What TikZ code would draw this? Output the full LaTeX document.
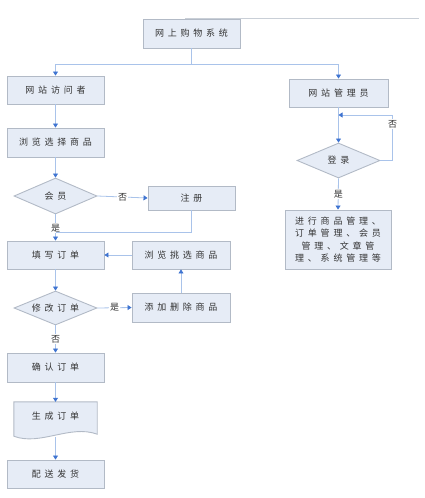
\documentclass[tikz,border=0pt]{standalone}
\usepackage{fontspec}
\newfontfamily\cjk[LetterSpace=42]{Noto Sans CJK SC}
\newfontfamily\cjklab{Noto Sans CJK SC}
\usetikzlibrary{arrows.meta,shapes.geometric}
\definecolor{boxfill}{HTML}{E6ECF6}
\definecolor{boxline}{HTML}{B2BAC6}
\definecolor{conn}{HTML}{A9C3EA}
\definecolor{tip}{HTML}{3F74D1}
\definecolor{txt}{HTML}{333333}
\tikzset{
  boxnode/.style={draw=boxline, line width=0.9pt, fill=boxfill, inner sep=0pt, text=txt, font=\cjk\fontsize{9}{12}\selectfont},
  decnode/.style={diamond, draw=boxline, line width=0.9pt, fill=boxfill, inner sep=0pt, text=txt, font=\cjk\fontsize{9}{12}\selectfont},
  lab/.style={fill=white, inner sep=1pt, text=txt, font=\cjklab\fontsize{9}{10}\selectfont},
  link/.style={draw=conn, line width=0.8pt},
  arr/.style={link, -{Triangle[width=5pt,length=4pt,color=tip]}}
}
\begin{document}
\begin{tikzpicture}[x=1pt,y=-1pt]
\useasboundingbox (0,0) rectangle (425,498);
\draw[boxline!70, line width=0.6pt] (185,18) -- (419,18);

% nodes
\node[boxnode, minimum width=97pt, minimum height=29pt] (sys) at (191.5,33.5) {网上购物系统};
\node[boxnode, minimum width=97pt, minimum height=28pt] (visitor) at (55.5,90) {网站访问者};
\node[boxnode, minimum width=97pt, minimum height=29pt] (browse) at (55.5,142.5) {浏览选择商品};
\node[decnode, minimum width=83pt, minimum height=36pt] (member) at (55.5,196) {\makebox[0pt]{会员}};
\node[boxnode, minimum width=87pt, minimum height=24pt] (reg) at (191.5,198) {注册};
\node[boxnode, minimum width=97pt, minimum height=28pt] (fill) at (55.5,255) {填写订单};
\node[boxnode, minimum width=98pt, minimum height=28pt] (pick) at (181,255) {浏览挑选商品};
\node[decnode, minimum width=83pt, minimum height=34pt] (modify) at (55.5,308) {\makebox[0pt]{修改订单}};
\node[boxnode, minimum width=98pt, minimum height=29pt] (adddel) at (181,307.5) {添加删除商品};
\node[boxnode, minimum width=97pt, minimum height=29pt] (confirm) at (55.5,367.5) {确认订单};
\node[inner sep=0pt, minimum width=83pt, minimum height=35pt] (gen) at (55.5,419.5) {};
\draw[draw=boxline, line width=0.9pt, fill=boxfill]
  (gen.north west) -- (gen.north east) -- ([yshift=3pt]gen.south east)
  .. controls ([xshift=-27pt,yshift=13pt]gen.south east) and ([xshift=26pt,yshift=-9pt]gen.south west) .. ([yshift=1pt]gen.south west) -- cycle;
\node[text=txt, font=\cjk\fontsize{9}{12}\selectfont, inner sep=0pt] (gentext) at (55.5,416) {生成订单};
\node[boxnode, minimum width=97pt, minimum height=28pt] (ship) at (55.5,474) {配送发货};

\node[boxnode, minimum width=99pt, minimum height=28pt] (admin) at (338.5,93) {网站管理员};
\node[decnode, minimum width=83pt, minimum height=35pt] (login) at (338.5,160.5) {\makebox[0pt]{登录}};
\node[boxnode, minimum width=106pt, minimum height=59pt, align=center, font=\cjk\fontsize{9}{12.3}\selectfont] (mgmt) at (338,239.5) {进行商品管理、\\订单管理、会员\\管理、文章管\\理、系统管理等};

% connectors
\coordinate (split) at (191.5,64.5);
\draw[link] (sys.south) -- (split);
\draw[arr] (split) -| (visitor.north);
\draw[arr] (split) -| (admin.north);
\draw[arr] (visitor.south) -- (browse.north);
\draw[arr] (browse.south) -- (member.north);
\draw[arr] (member.east) -- node[lab, midway] {否} (reg.west);
\draw[arr] (member.south) -- node[lab, pos=0.52] {是} (fill.north);
\coordinate (joinr) at (55.5,232);
\draw[link] (reg.south) |- (joinr);
\draw[arr] (pick.west) -- (fill.east);
\draw[arr] (fill.south) -- (modify.north);
\draw[arr] (modify.east) -- node[lab, midway] {是} (adddel.west);
\draw[arr] (adddel.north) -- (pick.south);
\draw[arr] (modify.south) -- node[lab, midway] {否} (confirm.north);
\draw[arr] (confirm.south) -- (gen.north);
\draw[arr] (gen.south) -- (ship.north);

\draw[arr] (admin.south) -- (login.north);
\coordinate (loopr) at (392.5,160.5);
\coordinate (loopt) at (392.5,115);
\coordinate (loopend) at (338.5,115);
\draw[arr] (login.east) -- (loopr) -- node[lab, pos=0.8] {否} (loopt) -- (loopend);
\draw[arr] (login.south) -- node[lab, midway] {是} (mgmt.north);
\end{tikzpicture}
\end{document}
